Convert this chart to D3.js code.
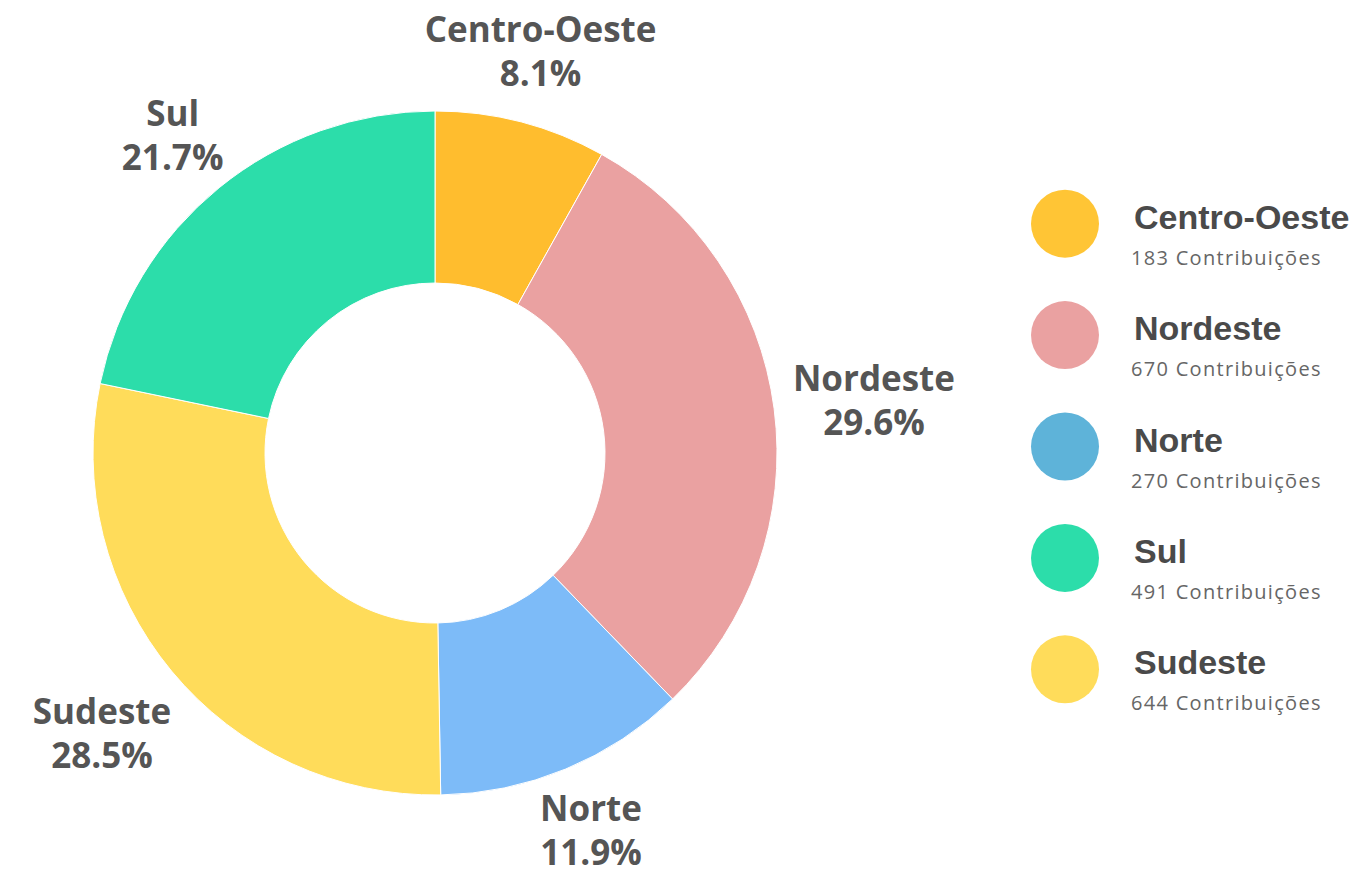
<!DOCTYPE html>
<html><head><meta charset="utf-8">
<script src="https://cdn.jsdelivr.net/npm/d3@7"></script>
<style>html,body{margin:0;padding:0;background:#fff;}svg{display:block;}</style>
</head><body>
<svg id="chart" width="1360" height="876"></svg>
<script>
const regions = ["Centro-Oeste", "Nordeste", "Norte", "Sul", "Sudeste"];
const counts = [183, 670, 270, 491, 644];
const sliceOrder = ["Centro-Oeste", "Nordeste", "Norte", "Sudeste", "Sul"];
const sliceColors = ["#FFBD2E", "#EAA1A1", "#7DBBF8", "#FFDC5A", "#2CDDAA"];
const legendColors = ["#FFC535", "#EAA1A1", "#5EB3D9", "#2CDDAA", "#FFDC5A"];
const unitLabel = "Contribuições";

const W = 1360, H = 876;
const svg = d3.select("#chart");
const cx = 435, cy = 453, R = 342, r0 = 170;
const total = d3.sum(counts);
const countOf = Object.fromEntries(regions.map((k, i) => [k, counts[i]]));
const data = sliceOrder.map((k, i) => ({ name: k, value: countOf[k], color: sliceColors[i] }));

const pie = d3.pie().sort(null).value(d => d.value);
const arc = d3.arc().innerRadius(r0).outerRadius(R);
const arcs = pie(data);
const g = svg.append("g").attr("transform", `translate(${cx},${cy})`);
g.selectAll("path").data(arcs).join("path")
  .attr("d", arc).attr("fill", d => d.data.color)
  .attr("stroke", "#fff").attr("stroke-width", 1);

const pct = v => (Math.floor(v / total * 1000) / 10).toFixed(1) + "%";
const lf = "'Open Sans', sans-serif";
const labels = g.selectAll("g.lbl").data(arcs).join("g").attr("class", "lbl");
labels.each(function (d) {
  const sel = d3.select(this);
  const t1 = sel.append("text").text(d.data.name);
  const t2 = sel.append("text").text(pct(d.value));
  [t1, t2].forEach(t => t.attr("font-family", lf).attr("font-weight", 700)
    .attr("font-size", 35).attr("fill", "#555").attr("text-anchor", "middle"));
  const w = Math.max(t1.node().getComputedTextLength(), t2.node().getComputedTextLength());
  const h = 66;
  const a = (d.startAngle + d.endAngle) / 2;
  const s = Math.sin(a), c = -Math.cos(a);
  const dist = R + 16 + Math.abs(s) * w / 2 + Math.abs(c) * h / 2;
  const x = s * dist, y = c * dist + 5;
  t1.attr("x", x).attr("y", y - 10);
  t2.attr("x", x).attr("y", y + 34);
  const bb = this.getBBox();
  const maxBottom = H - cy - 1;
  const over = bb.y + bb.height - maxBottom;
  if (over > 0) sel.attr("transform", `translate(0,${-over})`);
});

const lg = svg.append("g");
const ly = d3.scaleBand().domain(regions).range([168, 725]);
regions.forEach((k, i) => {
  const y = ly(k) + ly.bandwidth() / 2;
  lg.append("circle").attr("cx", 1065).attr("cy", y).attr("r", 34).attr("fill", legendColors[i]);
  lg.append("text").attr("x", 1134).attr("y", y + 5).text(k)
    .attr("font-family", "'Liberation Sans', Arial, sans-serif").attr("font-weight", 700)
    .attr("font-size", 34).attr("fill", "#4a4a4a");
  lg.append("text").attr("x", 1131).attr("y", y + 41).text(counts[i] + " " + unitLabel)
    .attr("font-family", lf).attr("font-weight", 400).attr("font-size", 20)
    .attr("letter-spacing", 1.3).attr("fill", "#666");
});
</script>
</body></html>
